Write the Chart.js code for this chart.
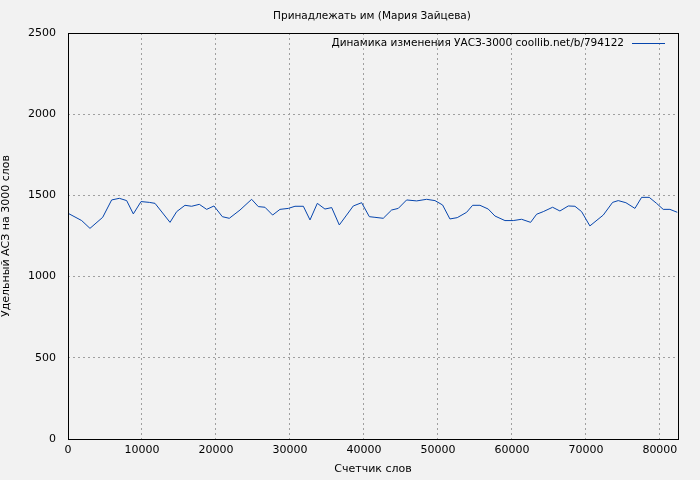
<!DOCTYPE html>
<html>
<head>
<meta charset="utf-8">
<script src="https://cdn.jsdelivr.net/npm/chart.js@4/dist/chart.umd.min.js"></script>
<style>
  html, body { margin: 0; padding: 0; background: #f2f2f2; }
  #wrap { width: 700px; height: 480px; }
</style>
</head>
<body>
<div id="wrap"><canvas id="chart" width="700" height="480"></canvas></div>
<script>
// Данные: счетчик слов и удельный АСЗ
const wordCounts = [0, 1850, 2970, 4690, 5900, 6940, 7930, 8830, 9870, 10990, 11760, 13790, 14690, 15810, 16710, 17750, 18740, 19730, 20860, 21800, 23250, 24820, 25720, 26620, 27660, 28650, 29780, 30680, 31810, 32710, 33700, 34730, 35640, 36670, 37660, 38560, 39690, 40730, 41490, 42610, 43740, 44640, 45770, 47120, 48470, 49600, 50630, 51620, 52610, 53880, 54690, 55680, 56800, 57710, 59060, 60180, 61310, 62530, 63340, 64240, 65500, 66490, 67620, 68520, 69420, 70540, 72350, 73610, 74370, 75410, 76630, 77530, 78560, 79550, 80450, 81360, 82350];
const aszValues = [1390, 1345, 1297, 1365, 1472, 1482, 1468, 1386, 1462, 1457, 1451, 1334, 1400, 1439, 1433, 1445, 1414, 1435, 1369, 1359, 1410, 1476, 1431, 1427, 1379, 1414, 1420, 1433, 1433, 1349, 1451, 1416, 1425, 1318, 1379, 1435, 1455, 1369, 1365, 1359, 1410, 1420, 1472, 1466, 1476, 1468, 1441, 1355, 1363, 1396, 1439, 1439, 1416, 1373, 1345, 1345, 1353, 1334, 1384, 1400, 1427, 1404, 1435, 1433, 1400, 1312, 1379, 1457, 1468, 1455, 1420, 1488, 1488, 1451, 1414, 1414, 1396];
const xTicks = [0, 10000, 20000, 30000, 40000, 50000, 60000, 70000, 80000];
const yTicks = [0, 500, 1000, 1500, 2000, 2500];

const chartTitle = 'Принадлежать им (Мария Зайцева)';
const seriesLabel = 'Динамика изменения УАСЗ-3000 coollib.net/b/794122';
const FONT = '"DejaVu Sans", sans-serif';

// Рамка, заголовок и легенда
const decor = {
    id: 'decor',
    afterDraw(chart) {
        const { ctx, chartArea: a } = chart;
        ctx.save();
        ctx.strokeStyle = '#000';
        ctx.lineWidth = 1;
        ctx.strokeRect(a.left + 0.5, a.top + 0.5, a.right - a.left, a.bottom - a.top);
        ctx.fillStyle = '#000';
        ctx.font = '10.5px ' + FONT;
        ctx.textAlign = 'center';
        ctx.textBaseline = 'middle';
        ctx.fillText(chartTitle, 372, 16);
        ctx.textAlign = 'right';
        ctx.fillText(seriesLabel, 624, 43);
        ctx.strokeStyle = '#0645ad';
        ctx.beginPath();
        ctx.moveTo(632, 43.5);
        ctx.lineTo(665, 43.5);
        ctx.stroke();
        ctx.restore();
    }
};

const ctx = document.getElementById('chart').getContext('2d');
new Chart(ctx, {
    type: 'scatter',
    data: {
        datasets: [{
            label: seriesLabel,
            data: wordCounts.map((x, i) => ({ x, y: aszValues[i] })),
            showLine: true,
            borderColor: '#0645ad',
            borderWidth: 1,
            pointRadius: 0,
            tension: 0
        }]
    },
    options: {
        responsive: false,
        animation: false,
        layout: { padding: { top: 33, right: 22, left: 0, bottom: 4 } },
        plugins: { legend: { display: false }, tooltip: { enabled: false } },
        scales: {
            x: {
                type: 'linear',
                min: 0,
                max: 82450,
                afterBuildTicks: s => { s.ticks = xTicks.map(v => ({ value: v })); },
                afterFit: s => { s.height = 37; },
                grid: { color: '#a0a0a0', drawTicks: false },
                border: { display: false, dash: [2, 3] },
                ticks: { color: '#000', font: { family: FONT, size: 11 }, padding: 5, maxRotation: 0, callback: v => String(v) },
                title: { display: true, text: 'Счетчик слов', color: '#000', font: { family: FONT, size: 11 }, padding: 0 }
            },
            y: {
                min: 0,
                max: 2500,
                afterBuildTicks: s => { s.ticks = yTicks.map(v => ({ value: v })); },
                afterFit: s => { s.width = 68; },
                grid: { color: '#a0a0a0', drawTicks: false },
                border: { display: false, dash: [2, 3] },
                ticks: { color: '#000', font: { family: FONT, size: 11 }, padding: 12, callback: v => String(v) },
                title: { display: true, text: 'Удельный АСЗ на 3000 слов', color: '#000', font: { family: FONT, size: 11 }, padding: 0 }
            }
        }
    },
    plugins: [decor]
});
</script>
</body>
</html>
